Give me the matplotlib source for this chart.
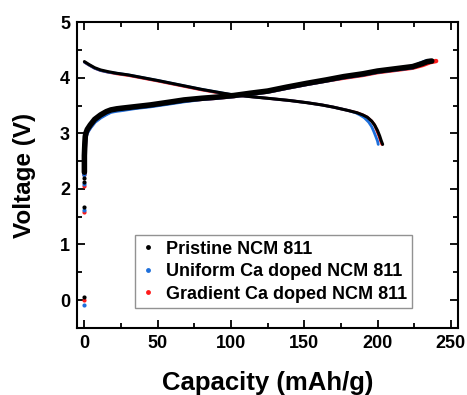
import matplotlib
matplotlib.use("Agg")
import matplotlib.pyplot as plt
from matplotlib.lines import Line2D
from matplotlib.ticker import MultipleLocator

plt.rcParams['font.family'] = ['Liberation Sans', 'DejaVu Sans']
plt.rcParams['font.weight'] = 'bold'

labels = ["Pristine NCM 811", "Uniform Ca doped NCM 811", "Gradient Ca doped NCM 811"]
colors = ["black", "#1E6FDB", "#FF1A1A"]

# Charge curves (capacity mAh/g, voltage V)
charge_cap_black = [0, 0, 0.3, 0.6, 1, 2, 4, 7, 11, 15, 18, 22, 25, 35, 45, 58, 68, 80, 90, 102, 113, 125, 138, 152, 165, 177, 190, 200, 212, 224, 230, 234, 237]
charge_v_black   = [2.3, 2.6, 2.8, 2.94, 3.0, 3.07, 3.15, 3.25, 3.33, 3.39, 3.42, 3.44, 3.45, 3.48, 3.51, 3.56, 3.6, 3.63, 3.65, 3.68, 3.72, 3.76, 3.83, 3.9, 3.96, 4.02, 4.07, 4.12, 4.16, 4.2, 4.25, 4.29, 4.30]
charge_cap_blue = [0, 0, 0.3, 0.6, 1, 2, 4, 7, 11, 15, 18, 22, 25, 35, 45, 58, 68, 80, 90, 102, 113, 125, 138, 152, 165, 177, 190, 200, 212, 224, 229, 233, 236]
charge_v_blue   = [2.25, 2.55, 2.76, 2.9, 2.96, 3.03, 3.11, 3.21, 3.29, 3.35, 3.39, 3.41, 3.42, 3.46, 3.49, 3.54, 3.58, 3.62, 3.64, 3.67, 3.71, 3.75, 3.82, 3.89, 3.95, 4.01, 4.06, 4.11, 4.15, 4.19, 4.25, 4.29, 4.30]
charge_cap_red = [0, 0, 0.3, 0.6, 1, 2, 4, 7, 11, 15, 18, 22, 25, 35, 45, 58, 68, 80, 90, 102, 113, 125, 138, 152, 165, 177, 190, 200, 212, 224, 231, 236, 240]
charge_v_red   = [2.25, 2.55, 2.76, 2.9, 2.97, 3.04, 3.12, 3.22, 3.3, 3.36, 3.4, 3.42, 3.43, 3.47, 3.5, 3.55, 3.59, 3.62, 3.64, 3.67, 3.71, 3.75, 3.82, 3.89, 3.95, 4.0, 4.05, 4.1, 4.14, 4.18, 4.23, 4.28, 4.30]

# Discharge curves
discharge_cap_black = [0, 3, 7, 11, 16, 22, 30, 38, 50, 65, 80, 95, 102, 113, 125, 140, 152, 162, 170, 180, 186, 190, 193, 196, 198, 200, 201.5, 202.5, 203.5]
discharge_v_black   = [4.29, 4.24, 4.18, 4.14, 4.11, 4.08, 4.05, 4.01, 3.95, 3.87, 3.79, 3.72, 3.69, 3.66, 3.63, 3.59, 3.55, 3.51, 3.47, 3.41, 3.37, 3.33, 3.29, 3.22, 3.15, 3.05, 2.95, 2.87, 2.8]
discharge_cap_blue = [0, 3, 7, 11, 16, 22, 30, 38, 50, 65, 80, 95, 102, 113, 125, 140, 152, 162, 170, 180, 185, 188, 191, 194, 196, 197.5, 199, 200, 200.5]
discharge_v_blue   = [4.28, 4.23, 4.17, 4.13, 4.1, 4.08, 4.05, 4.01, 3.95, 3.87, 3.79, 3.72, 3.69, 3.66, 3.63, 3.59, 3.55, 3.51, 3.47, 3.41, 3.37, 3.33, 3.28, 3.2, 3.12, 3.03, 2.93, 2.86, 2.8]
discharge_cap_red = [0, 3, 7, 11, 16, 22, 30, 38, 50, 65, 80, 95, 102, 113, 125, 140, 152, 162, 170, 180, 186, 190, 193, 196, 198, 199.5, 201, 202, 203]
discharge_v_red   = [4.28, 4.23, 4.17, 4.13, 4.1, 4.07, 4.04, 4.0, 3.94, 3.86, 3.78, 3.71, 3.69, 3.66, 3.63, 3.59, 3.55, 3.51, 3.47, 3.41, 3.37, 3.33, 3.29, 3.22, 3.15, 3.05, 2.95, 2.87, 2.8]

# Isolated initial points at zero capacity
dots_cap_black = [0, 0, 0, 0]
dots_v_black = [0.05, 1.67, 2.13, 2.2]
dots_cap_blue = [0, 0, 0, 0]
dots_v_blue = [-0.08, 1.62, 2.08, 2.35]
dots_cap_red = [0, 0, 0, 0]
dots_v_red = [0.0, 1.58, 2.05, 2.28]

series = {
    "red": (charge_cap_red, charge_v_red, discharge_cap_red, discharge_v_red, dots_cap_red, dots_v_red, colors[2]),
    "blue": (charge_cap_blue, charge_v_blue, discharge_cap_blue, discharge_v_blue, dots_cap_blue, dots_v_blue, colors[1]),
    "black": (charge_cap_black, charge_v_black, discharge_cap_black, discharge_v_black, dots_cap_black, dots_v_black, colors[0]),
}

fig = plt.figure(figsize=(4.67, 3.95), dpi=100)
ax = fig.add_axes([0.165, 0.170, 0.816, 0.774])

for key in ["red", "blue", "black"]:
    cc, cv, dc, dv, pc, pv, col = series[key]
    lw_c = 4.0 if key == "black" else 3.2
    lw_d = 2.2 if key == "black" else 2.0
    ax.plot(cc, cv, color=col, lw=lw_c, solid_capstyle='round', solid_joinstyle='round')
    ax.plot(dc, dv, color=col, lw=lw_d, solid_capstyle='round', solid_joinstyle='round')
    ax.plot(pc, pv, 'o', color=col, ms=3, mew=0)

ax.set_xlim(-5, 255)
ax.set_ylim(-0.5, 5)
ax.xaxis.set_major_locator(MultipleLocator(50))
ax.xaxis.set_minor_locator(MultipleLocator(25))
ax.yaxis.set_major_locator(MultipleLocator(1))
ax.yaxis.set_minor_locator(MultipleLocator(0.5))
ax.tick_params(which='both', direction='in', top=True, right=True, width=1.3)
ax.tick_params(which='major', length=6, labelsize=13, pad=5)
ax.tick_params(which='minor', length=3.5)
for lab in ax.get_xticklabels() + ax.get_yticklabels():
    lab.set_fontweight('bold')
for s in ax.spines.values():
    s.set_linewidth(1.5)

ax.set_xlabel("Capacity (mAh/g)", fontsize=18.5, fontweight='bold', labelpad=14)
ax.set_ylabel("Voltage (V)", fontsize=17.5, fontweight='bold', labelpad=17)

handles = [Line2D([], [], ls='none', marker='o', ms=3.5, mew=0, color=c) for c in colors]
leg = ax.legend(handles, labels, loc='lower left', bbox_to_anchor=(0.152, 0.065),
                prop={'weight': 'bold', 'size': 13}, frameon=True, fancybox=False,
                edgecolor='#777777', handlelength=0.8, handletextpad=0.6,
                labelspacing=0.3, borderpad=0.3, borderaxespad=0)
leg.get_frame().set_linewidth(1.0)

fig.savefig("out.png", dpi=100)
